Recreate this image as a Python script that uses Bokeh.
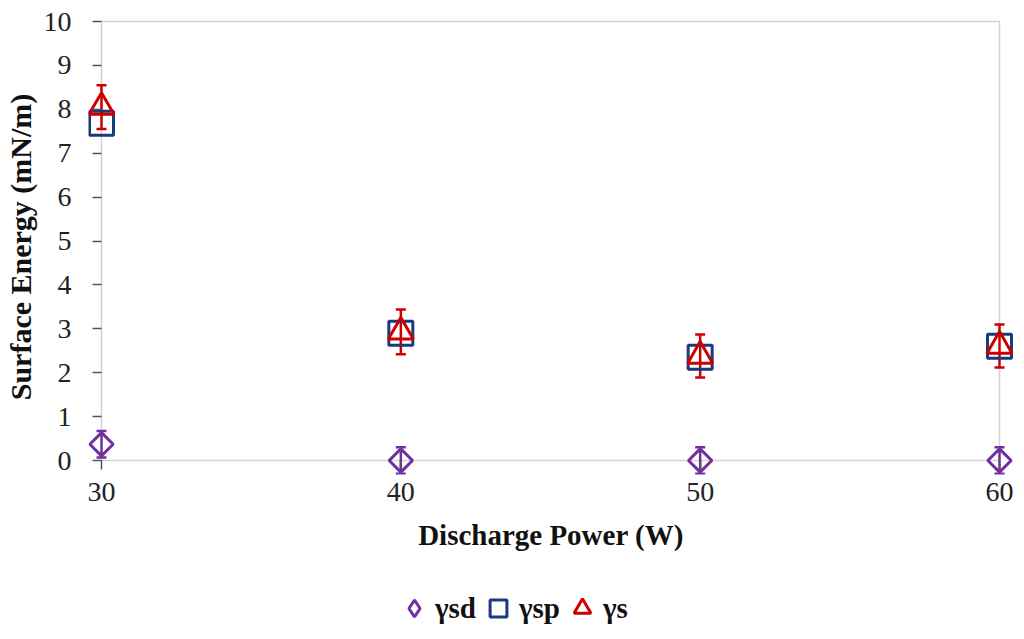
import numpy as np
from bokeh.plotting import figure
from bokeh.layouts import column
from bokeh.models import (ColumnDataSource, Whisker, Legend, LegendItem, FixedTicker,
                          Range1d, TeeHead, BoxAnnotation)
from bokeh.embed import file_html
from bokeh.resources import INLINE

power = [30, 40, 50, 60]
gamma_sd = [0.37, 0.0, 0.0, 0.0]
gamma_sd_err = [0.3, 0.3, 0.3, 0.3]
gamma_sp = [7.68, 2.90, 2.35, 2.60]
gamma_s = [8.05, 2.93, 2.38, 2.61]
gamma_s_err = [0.5, 0.51, 0.49, 0.49]
y_ticks = [0, 1, 2, 3, 4, 5, 6, 7, 8, 9, 10]
x_ticks = [30, 40, 50, 60]
labels = ["γsd", "γsp", "γs"]

FONT = "Liberation Serif"
PURPLE = "#7030A0"
BLUE = "#1B3A7E"
RED = "#CC0000"
W = 1014

# pixels per data unit
KX = 898 / 30.0
KY = 439 / 10.0

p = figure(width=W, height=586, output_backend="svg", toolbar_location=None,
           x_range=Range1d(x_ticks[0] - 13 / KX, x_ticks[-1] + 14 / KX),
           y_range=Range1d(y_ticks[0] - 14 / KY, y_ticks[-1] + 2 / KY),
           min_border_left=88, min_border_right=1, min_border_top=19, min_border_bottom=112)

p.xgrid.visible = False
p.ygrid.visible = False
p.outline_line_color = None
p.add_layout(BoxAnnotation(left=x_ticks[0], right=x_ticks[-1], bottom=y_ticks[0], top=y_ticks[-1],
                           fill_alpha=0, line_color="#6A6A6A", line_width=1.5, level="underlay"))

p.xaxis.ticker = FixedTicker(ticks=x_ticks)
p.yaxis.ticker = FixedTicker(ticks=y_ticks)
p.xaxis.bounds = (x_ticks[0], x_ticks[-1])
p.yaxis.bounds = (y_ticks[0], y_ticks[-1])
for ax in (p.xaxis[0], p.yaxis[0]):
    ax.axis_line_color = None
    ax.major_tick_line_color = "#555555"
    ax.major_tick_line_width = 1.5
    ax.minor_tick_line_color = None
    ax.major_label_text_font = FONT
    ax.major_label_text_font_size = "28px"
    ax.major_label_text_color = "#222222"
    ax.axis_label_text_font = FONT
    ax.axis_label_text_font_size = "29px"
    ax.axis_label_text_font_style = "bold"
    ax.axis_label_text_color = "#111111"
p.yaxis.axis_label_text_font_size = "30px"

# ticks sit on the box edge (x=30 / y=0), which lies inside the padded frame
p.yaxis.major_tick_in = 13
p.yaxis.major_tick_out = -4
p.xaxis.major_tick_in = 14
p.xaxis.major_tick_out = -5

p.xaxis.axis_label = "Discharge Power (W)"
p.yaxis.axis_label = "Surface Energy (mN/m)"
p.xaxis.major_label_standoff = 8
p.xaxis.axis_label_standoff = 15
p.yaxis.major_label_standoff = 17
p.yaxis.axis_label_standoff = 4

src_sd = ColumnDataSource(dict(x=power, y=gamma_sd,
                               lo=[a - e for a, e in zip(gamma_sd, gamma_sd_err)],
                               hi=[a + e for a, e in zip(gamma_sd, gamma_sd_err)]))
src_sp = ColumnDataSource(dict(x=power, y=gamma_sp))
src_s = ColumnDataSource(dict(x=power, y=gamma_s,
                              lo=[a - e for a, e in zip(gamma_s, gamma_s_err)],
                              hi=[a + e for a, e in zip(gamma_s, gamma_s_err)]))

p.add_layout(Whisker(source=src_sd, base="x", lower="lo", upper="hi",
                     line_color=PURPLE, line_width=2.5,
                     upper_head=TeeHead(size=10, line_color=PURPLE, line_width=2.5),
                     lower_head=TeeHead(size=10, line_color=PURPLE, line_width=2.5)))
p.scatter("x", "y", source=src_sd, marker="square", angle=np.pi / 4, size=16.5,
          line_color=PURPLE, line_width=3, fill_color=None)

p.scatter("x", "y", source=src_sp, marker="square", size=24,
          line_color=BLUE, line_width=3, fill_color=None)

p.add_layout(Whisker(source=src_s, base="x", lower="lo", upper="hi",
                     line_color=RED, line_width=2.5,
                     upper_head=TeeHead(size=10, line_color=RED, line_width=2.5),
                     lower_head=TeeHead(size=10, line_color=RED, line_width=2.5)))
p.scatter("x", "y", source=src_s, marker="triangle", size=25,
          line_color=RED, line_width=3, fill_color=None)

# legend strip below the chart (placeholder glyphs carry only the styles)
p2 = figure(width=W, height=44, output_backend="svg", toolbar_location=None,
            x_range=Range1d(0, 1), y_range=Range1d(0, 1),
            x_axis_type=None, y_axis_type=None,
            min_border_left=0, min_border_right=0, min_border_top=0, min_border_bottom=0)
p2.xgrid.visible = False
p2.ygrid.visible = False
p2.outline_line_color = None
nan_src = ColumnDataSource(dict(x=np.array([np.nan]), y=np.array([np.nan])))
l_sd = p2.scatter("x", "y", source=nan_src, marker="diamond", size=20, line_color=PURPLE, line_width=3, fill_color=None)
l_sp = p2.scatter("x", "y", source=nan_src, marker="square", size=20, line_color=BLUE, line_width=3, fill_color=None)
l_s = p2.scatter("x", "y", source=nan_src, marker="triangle", size=20, line_color=RED, line_width=3, fill_color=None)

legend = Legend(items=[LegendItem(label=labels[0], renderers=[l_sd]),
                       LegendItem(label=labels[1], renderers=[l_sp]),
                       LegendItem(label=labels[2], renderers=[l_s])],
                orientation="horizontal", location=(305, 1),
                border_line_color=None, background_fill_alpha=0,
                label_text_font=FONT, label_text_font_size="29px",
                label_text_font_style="bold", label_text_color="#111111",
                glyph_width=42, glyph_height=42, label_standoff=-12, spacing=1,
                margin=0, padding=0)
p2.add_layout(legend, "center")

open("out.html", "w").write(file_html(column(p, p2, spacing=0), INLINE))
